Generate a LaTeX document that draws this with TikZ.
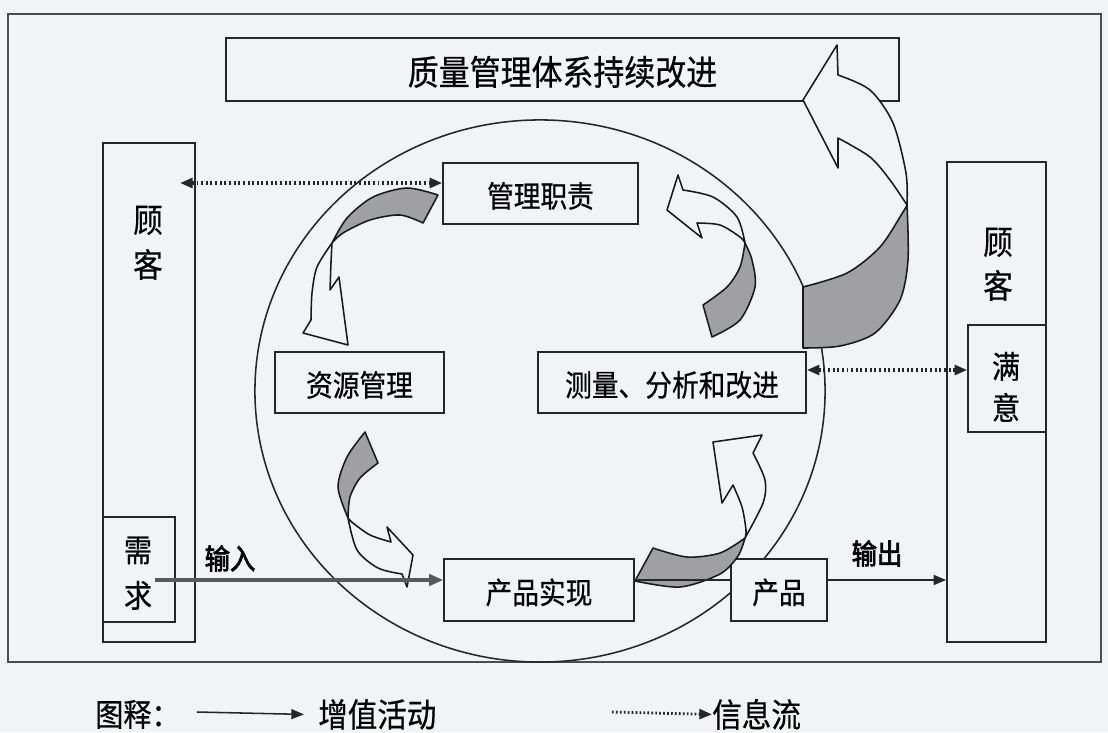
\documentclass[tikz,border=0pt]{standalone}
\usepackage{fontspec}
\setmainfont[FakeBold=0.6]{Noto Sans CJK SC}
\newfontfamily\cjkbold[FakeBold=2.8]{Noto Sans CJK SC}
\usetikzlibrary{arrows.meta,fit}
\definecolor{bgc}{RGB}{241,243,245}
\definecolor{facegray}{RGB}{160,160,162}
\newcommand{\tallt}[1]{\scalebox{1}[1.12]{#1}}
\begin{document}
\begin{tikzpicture}[x=0.025cm,y=-0.025cm,
  box/.style={draw=black!85, line width=1.1pt, fill=bgc, inner sep=0pt},
  txt/.style={inner sep=0pt, yshift=-0.06cm},
  lbl/.style={txt, font=\fontsize{19}{21}\selectfont},
  chr/.style={txt, font=\fontsize{20}{22}\selectfont},
  flow/.style={line width=1.3pt, draw=black!85, -{Triangle[length=9pt,width=7pt]}},
  thickflow/.style={line width=2.4pt, draw=black!65, -{Triangle[length=10pt,width=8pt]}},
  plain/.style={line width=1.2pt, draw=black!85},
  info/.style={line width=2.2pt, draw=black!85, dash pattern=on 1.4pt off 1.9pt,
     {Triangle[length=9pt,width=7pt]}-{Triangle[length=9pt,width=7pt]}},
  infoone/.style={line width=2pt, draw=black!85, dash pattern=on 1.2pt off 1.6pt,
     -{Triangle[length=9pt,width=7pt]}},
  backface/.style={draw=black!90, line width=1.1pt, fill=facegray, line join=round},
  frontface/.style={draw=black!90, line width=1.1pt, fill=bgc, line join=round},
  boldlbl/.style={txt, font=\cjkbold\fontsize{18}{20}\selectfont},
]
% background
\fill[bgc] (0,0) rectangle (1108,732);
\useasboundingbox (0,0) rectangle (1108,732);
% outer frame
\draw[line width=0.9pt, draw=black!70] (8,14) rectangle (1101,662);

% big circle
\draw[line width=1.1pt, draw=black!85] (540,391) ellipse [x radius=7.125cm, y radius=6.775cm];

% top box
\node[box, fit={(226,38)(899,101)}] (top) {};
\node[txt, font=\fontsize{22}{24}\selectfont] (toptxt) at (top.center) {\tallt{质量管理体系持续改进}};

% customer columns
\node[box, fit={(103,143)(195,642)}] (lcol) {};
\node[box, fit={(103,517)(175,622)}] (need) {};
\node[chr, font=\fontsize{21}{23}\selectfont] (lgu) at (148,218) {\tallt{顾}};
\node[chr, font=\fontsize{21}{23}\selectfont] (lke) at (148,262) {\tallt{客}};
\node[chr] (xu) at (138,548) {\tallt{需}};
\node[chr] (qiu) at (138,593) {\tallt{求}};

\node[box, fit={(947,162)(1046,642)}] (rcol) {};
\node[box, fit={(968,325)(1046,432)}] (sat) {};
\node[chr, font=\fontsize{21}{23}\selectfont] (rgu) at (998,240) {\tallt{顾}};
\node[chr, font=\fontsize{21}{23}\selectfont] (rke) at (998,283) {\tallt{客}};
\node[chr] (man) at (1006,364) {\tallt{满}};
\node[chr] (yi) at (1006,405) {\tallt{意}};

% process boxes
\node[box, fit={(443,163)(638,224)}] (mgmt) {};
\node[lbl] (mgmttxt) at (mgmt.center) {\tallt{管理职责}};
\node[box, fit={(275,352)(444,413)}] (res) {};
\node[lbl] (restxt) at (res.center) {\tallt{资源管理}};
\node[box, fit={(538,352)(806,413)}] (meas) {};
\node[lbl] (meastxt) at (meas.center) {\tallt{测量、分析和改进}};
\node[box, fit={(444,559)(634,621)}] (real) {};
\node[lbl] (realtxt) at (real.center) {\tallt{产品实现}};
\node[box, fit={(731,559)(827,621)}] (prod) {};
\node[lbl] (prodtxt) at (prod.center) {\tallt{产品}};

% curved arrows: 1 (mgmt -> res)
\path[backface] plot[smooth] coordinates {(438,195) (407,188) (373,197) (347,218) (332,243)}
  -- plot[smooth] coordinates {(332,243) (343,233) (370,220) (400,215) (423,223)} -- cycle;
\path[frontface] plot[smooth] coordinates {(332,243) (317,267) (312,293) (311,320)}
  -- (303,333) -- (348,345) -- (339,277) -- (330,290) -- (331,262) -- cycle;
% 2 (res -> real)
\path[backface] plot[smooth] coordinates {(365,432) (347,457) (338,487) (348,518)}
  -- plot[smooth] coordinates {(348,518) (350,497) (360,478) (378,463)} -- cycle;
\path[frontface] plot[smooth] coordinates {(348,518) (357,550) (378,568) (402,574)}
  -- (407,587) -- (413,555) -- (387,527) -- (391,542)
  -- plot[smooth] coordinates {(391,542) (370,535) (353,523) (348,518)} -- cycle;
% 3 (real -> meas)
\path[backface] plot[smooth] coordinates {(653,548) (687,557) (720,553) (745,538)}
  -- plot[smooth] coordinates {(745,538) (738,556) (720,574) (680,587) (635,581)} -- cycle;
\path[frontface] plot[smooth] coordinates {(745,538) (763,503) (765,480) (753,453)}
  -- (762,435) -- (713,442) -- (722,503) -- (733,485)
  -- plot[smooth] coordinates {(733,485) (742,507) (746,530) (745,538)} -- cycle;
% 4 (meas -> mgmt)
\path[backface] plot[smooth] coordinates {(712,337) (740,320) (755,287) (752,260) (745,243)}
  -- plot[smooth] coordinates {(745,243) (740,267) (727,287) (703,305)} -- cycle;
\path[frontface] plot[smooth] coordinates {(745,243) (737,217) (713,197) (683,190)}
  -- (678,175) -- (667,210) -- (702,238) -- (697,223)
  -- plot[smooth] coordinates {(697,223) (720,225) (740,237) (745,243)} -- cycle;
% 5 big arrow (to top box)
\path[backface] plot[smooth] coordinates {(803,287) (847,273) (880,247) (903,212) (907,205)}
  -- plot[smooth] coordinates {(907,205) (908,260) (900,300) (875,333) (840,346) (803,348)} -- cycle;
\path[frontface] plot[smooth] coordinates {(838,75) (870,90) (893,123) (906,173) (907,205)}
  -- plot[smooth] coordinates {(907,205) (890,180) (870,157) (838,138)}
  -- (838,168) -- (803,100) -- (837,45) -- cycle;

% information flows
\coordinate (linfo) at (180,183);
\draw[info] (linfo) -- (mgmt.west |- linfo);
\draw[info] (meas.east |- 0,370) -- (sat.west |- 0,370);

% value-added flows
\coordinate (instart) at (155,580);
\draw[thickflow] (instart) -- (real.west |- instart);
\draw[plain] (real.east |- 0,580) -- (prod.west |- 0,580);
\draw[flow, line width=1.6pt] (prod.east |- 0,580) -- (rcol.west |- 0,580);
\node[boldlbl] (inlbl) at (230,556) {\tallt{输入}};
\node[boldlbl] (outlbl) at (877,551) {\tallt{输出}};

% legend
\node[chr, anchor=west] (leg) at (95,712) {\tallt{图释：}};
\node[chr, anchor=west, font=\fontsize{21}{23}\selectfont] (va) at (318,712) {\tallt{增值活动}};
\node[chr, anchor=west, font=\fontsize{21}{23}\selectfont] (inf) at (712,712) {\tallt{信息流}};
\coordinate (legs) at (197,712);
\draw[flow, line width=1.1pt] (legs) -- ([xshift=-0.35cm]va.west);
\coordinate (lege) at (612,712);
\draw[infoone] (lege) -- (inf.west);
\end{tikzpicture}
\end{document}
